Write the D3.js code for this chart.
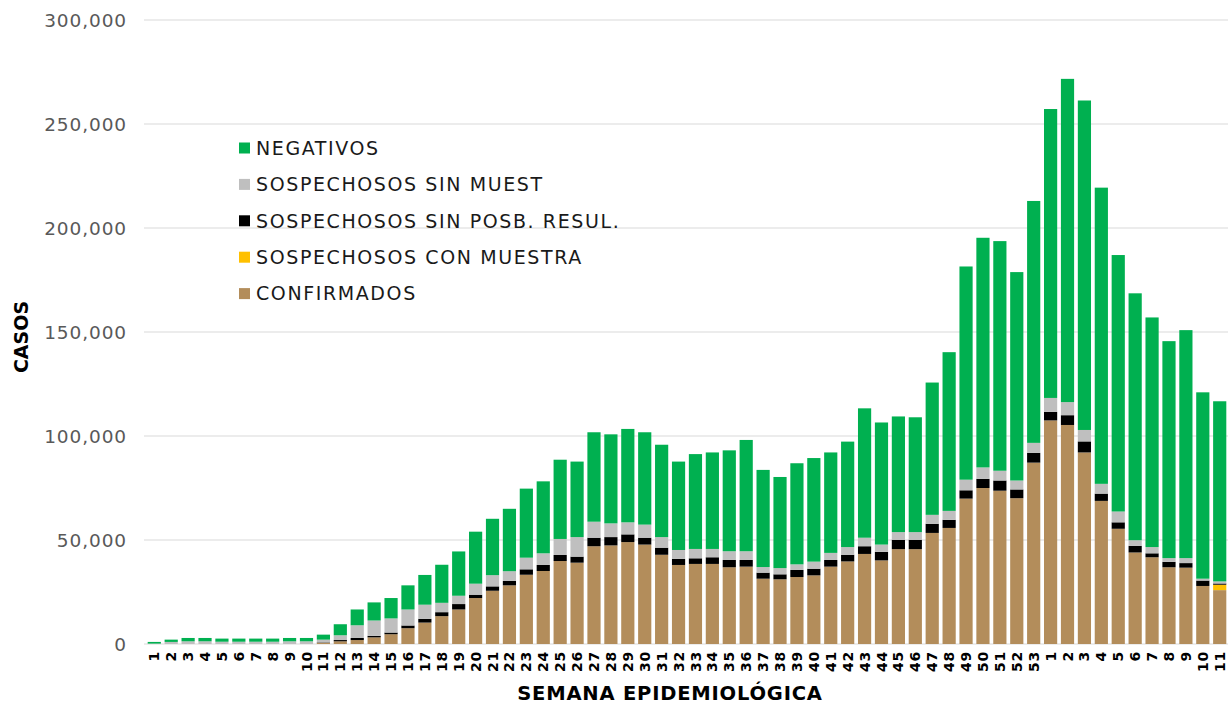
<!doctype html>
<html>
<head>
<meta charset="utf-8" />
<title>Casos por semana epidemiologica</title>
<script src="https://cdn.jsdelivr.net/npm/d3@7"></script>
<style>
  html, body { margin: 0; padding: 0; background: #fff; }
  svg { display: block; }
  .ytick text { font-family: "DejaVu Sans", sans-serif; font-size: 18.5px; fill: #595959; }
  .xtick text { font-family: "DejaVu Sans", sans-serif; font-size: 14px; font-weight: bold; fill: #000; }
  .legend text { font-family: "DejaVu Sans", sans-serif; font-size: 19px; fill: #1a1a1a; }
  .title { font-family: "DejaVu Sans", sans-serif; font-weight: bold; fill: #000; }
</style>
</head>
<body>
<svg id="chart" width="1231" height="705"></svg>
<script>
// weeks 1..53 of 2020 then 1..11 of 2021
var weekLabels = ["1","2","3","4","5","6","7","8","9","10","11","12","13","14","15","16","17","18","19","20",
  "21","22","23","24","25","26","27","28","29","30","31","32","33","34","35","36","37","38","39","40",
  "41","42","43","44","45","46","47","48","49","50","51","52","53",
  "1","2","3","4","5","6","7","8","9","10","11"];

var confirmados = [0,0,0,0,0,0,0,0,0,0,600,1300,1900,3200,4700,7600,10300,13400,16600,22100,
  25600,28200,33300,35100,39900,39100,47000,47400,49000,47800,42900,38000,38500,38500,36900,37200,31400,31100,32200,33000,
  37200,39700,43300,40200,45600,45600,53400,55800,69900,75000,73700,70100,87200,
  107500,105300,92100,68800,55400,44000,41700,36900,36700,27900,25900];

var conMuestra = [0,0,0,0,0,0,0,0,0,0,0,0,0,0,0,0,0,0,0,0,
  0,0,0,0,0,0,0,0,0,0,0,0,0,0,0,0,0,0,0,0,
  0,0,0,0,0,0,0,0,0,0,0,0,0,
  0,0,0,0,0,0,0,0,0,0,2600];

var sinPosbResul = [0,0,0,0,0,0,0,0,0,0,200,600,1000,700,800,1300,1800,1900,2600,1600,
  2100,2100,2600,2900,2900,2900,4100,4000,3700,3300,3400,2900,2700,3200,3500,3200,2900,2400,3400,3200,
  3200,3200,3700,4100,4500,4500,4400,3900,4000,4400,4900,4200,4700,
  4100,4700,5300,3500,3100,3200,1900,2600,2200,2600,600];

var sinMuest = [200,1000,1300,1300,1100,1100,1100,1100,1300,1300,1300,2300,6100,7400,6800,7700,6800,4500,4000,5300,
  5400,4700,5600,5600,7700,9400,7700,6600,5800,6300,5100,4300,4500,4000,4200,4200,2700,3000,2700,3400,
  3400,3700,4100,3500,3700,3700,4300,4300,5100,5500,4700,4300,4800,
  6700,6300,5500,4700,5200,2700,3000,1800,2400,900,1000];

var negativos = [800,1100,1600,1600,1500,1500,1500,1500,1600,1600,2400,5300,7600,8700,9800,11600,14300,18300,21300,25000,
  27100,30000,33200,34600,38100,36300,43000,42800,44900,44400,44400,42500,45600,46400,48500,53500,46700,43800,48600,49800,
  48300,50700,62200,58700,55600,55200,63600,76300,102500,110400,110400,100200,116300,
  138900,155400,158400,142400,123300,118700,110400,104300,109600,89600,86600];

var seriesKeys = ["confirmados","conMuestra","sinPosbResul","sinMuest","negativos"];
var seriesNames = ["CONFIRMADOS","SOSPECHOSOS CON MUESTRA","SOSPECHOSOS SIN POSB. RESUL.","SOSPECHOSOS SIN MUEST","NEGATIVOS"];
var seriesColors = ["#b38d5b","#ffc000","#000000","#bfbfbf","#00b050"];
var yTicks = [0,50000,100000,150000,200000,250000,300000];

var rows = weekLabels.map(function(w, i) {
  return { i: i, week: w, confirmados: confirmados[i], conMuestra: conMuestra[i],
           sinPosbResul: sinPosbResul[i], sinMuest: sinMuest[i], negativos: negativos[i] };
});

var svg = d3.select("#chart");
var plotL = 146, plotR = 1228, plotT = 20, plotB = 644;

var x = d3.scaleBand().domain(d3.range(weekLabels.length)).range([plotL, plotR]).paddingInner(0.22).paddingOuter(0.1);
var y = d3.scaleLinear().domain([0, 300000]).range([plotB, plotT]);

// grid
svg.append("g").selectAll("line").data(yTicks).enter().append("line")
  .attr("x1", plotL - 2).attr("x2", plotR)
  .attr("y1", function(d) { return y(d); }).attr("y2", function(d) { return y(d); })
  .attr("stroke", "#d9d9d9").attr("stroke-width", 1.2);

// y axis labels
var yAxis = d3.axisLeft(y).tickValues(yTicks).tickSize(0).tickPadding(0).tickFormat(d3.format(","));
var yg = svg.append("g").attr("class", "ytick").attr("transform", "translate(" + (plotL - 19) + ",0)").call(yAxis);
yg.select(".domain").remove();
yg.selectAll("text").attr("dy", "0.36em").attr("letter-spacing", "0.9px");

// stacked bars
var stack = d3.stack().keys(seriesKeys);
var layers = stack(rows);
svg.append("g").selectAll("g").data(layers).enter().append("g")
  .attr("fill", function(d, k) { return seriesColors[k]; })
  .selectAll("rect").data(function(d) { return d; }).enter().append("rect")
  .attr("x", function(d) { return x(d.data.i); })
  .attr("width", x.bandwidth())
  .attr("y", function(d) { return y(d[1]); })
  .attr("height", function(d) { return Math.max(0, y(d[0]) - y(d[1])); });

// x axis labels
var xAxis = d3.axisBottom(x).tickSize(0).tickFormat(function(i) { return weekLabels[i]; });
var xg = svg.append("g").attr("class", "xtick").attr("transform", "translate(0," + plotB + ")").call(xAxis);
xg.select(".domain").remove();
xg.selectAll("text")
  .attr("transform", "rotate(-90)")
  .attr("text-anchor", "end")
  .attr("letter-spacing", "0.8px")
  .attr("x", -7).attr("y", 0).attr("dy", "0.36em");

// axis titles
svg.append("text").attr("class", "title").attr("font-size", 19)
  .attr("text-anchor", "middle")
  .attr("transform", "translate(28,337) rotate(-90)")
  .text("CASOS");
svg.append("text").attr("class", "title").attr("font-size", 19.5)
  .attr("text-anchor", "middle").attr("x", 670).attr("y", 700)
  .attr("letter-spacing", "0.8px")
  .text("SEMANA EPIDEMIOLÓGICA");

// legend
var legendOrder = [4,3,2,1,0];
var lg = svg.append("g").attr("class", "legend");
legendOrder.forEach(function(k, r) {
  var cy = 148 + r * 36.4;
  lg.append("rect").attr("x", 239).attr("y", cy - 5.5).attr("width", 11).attr("height", 11).attr("fill", seriesColors[k]);
  lg.append("text").attr("x", 256).attr("y", cy).attr("dy", "0.36em").attr("letter-spacing", "1.6px").text(seriesNames[k]);
});
</script>
</body>
</html>
